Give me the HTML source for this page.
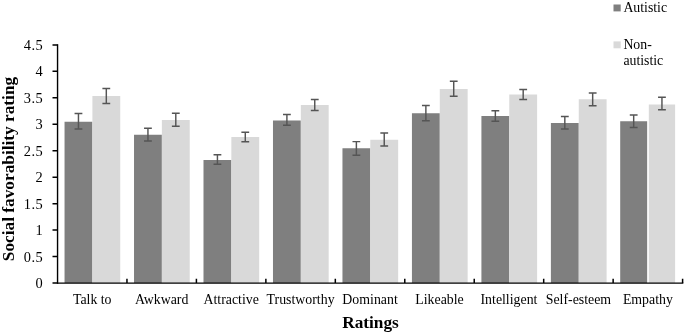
<!DOCTYPE html>
<html><head><meta charset="utf-8"><title>Ratings chart</title>
<style>
html,body{margin:0;padding:0;background:#fff;}
body{width:685px;height:333px;overflow:hidden;}
svg{display:block;will-change:transform;}
text{font-family:"Liberation Serif","Times New Roman",serif;fill:#000;}
.t{font-size:13.85px;}.l{font-size:13.8px;}
.y{font-size:14.4px;letter-spacing:0.45px;}
.b{font-size:17.3px;font-weight:bold;}
</style></head><body>
<svg width="685" height="333" viewBox="0 0 685 333">
<rect width="685" height="333" fill="#fff"/>
<rect x="64.54" y="121.75" width="27.85" height="161.25" fill="#7f7f7f"/>
<rect x="92.39" y="96.00" width="27.85" height="187.00" fill="#d9d9d9"/>
<path d="M78.46 113.50V129.00M74.56 113.50H82.36M74.56 129.00H82.36" stroke="#555" stroke-width="1.45" fill="none"/>
<path d="M106.31 88.50V103.50M102.41 88.50H110.21M102.41 103.50H110.21" stroke="#555" stroke-width="1.45" fill="none"/>
<rect x="134.02" y="134.75" width="27.85" height="148.25" fill="#7f7f7f"/>
<rect x="161.87" y="120.00" width="27.85" height="163.00" fill="#d9d9d9"/>
<path d="M147.94 128.25V141.00M144.04 128.25H151.84M144.04 141.00H151.84" stroke="#555" stroke-width="1.45" fill="none"/>
<path d="M175.79 113.25V126.25M171.89 113.25H179.69M171.89 126.25H179.69" stroke="#555" stroke-width="1.45" fill="none"/>
<rect x="203.50" y="160.00" width="27.85" height="123.00" fill="#7f7f7f"/>
<rect x="231.35" y="137.00" width="27.85" height="146.00" fill="#d9d9d9"/>
<path d="M217.43 154.75V164.25M213.53 154.75H221.33M213.53 164.25H221.33" stroke="#555" stroke-width="1.45" fill="none"/>
<path d="M245.28 132.25V141.75M241.38 132.25H249.18M241.38 141.75H249.18" stroke="#555" stroke-width="1.45" fill="none"/>
<rect x="272.98" y="120.50" width="27.85" height="162.50" fill="#7f7f7f"/>
<rect x="300.83" y="105.00" width="27.85" height="178.00" fill="#d9d9d9"/>
<path d="M286.90 114.50V125.25M283.00 114.50H290.80M283.00 125.25H290.80" stroke="#555" stroke-width="1.45" fill="none"/>
<path d="M314.75 99.50V110.50M310.86 99.50H318.65M310.86 110.50H318.65" stroke="#555" stroke-width="1.45" fill="none"/>
<rect x="342.46" y="148.25" width="27.85" height="134.75" fill="#7f7f7f"/>
<rect x="370.31" y="139.75" width="27.85" height="143.25" fill="#d9d9d9"/>
<path d="M356.38 141.60V155.25M352.49 141.60H360.28M352.49 155.25H360.28" stroke="#555" stroke-width="1.45" fill="none"/>
<path d="M384.24 133.00V146.00M380.34 133.00H388.13M380.34 146.00H388.13" stroke="#555" stroke-width="1.45" fill="none"/>
<rect x="411.94" y="113.25" width="27.85" height="169.75" fill="#7f7f7f"/>
<rect x="439.79" y="89.00" width="27.85" height="194.00" fill="#d9d9d9"/>
<path d="M425.87 105.50V120.75M421.97 105.50H429.76M421.97 120.75H429.76" stroke="#555" stroke-width="1.45" fill="none"/>
<path d="M453.72 81.25V96.25M449.82 81.25H457.62M449.82 96.25H457.62" stroke="#555" stroke-width="1.45" fill="none"/>
<rect x="481.42" y="116.00" width="27.85" height="167.00" fill="#7f7f7f"/>
<rect x="509.27" y="94.50" width="27.85" height="188.50" fill="#d9d9d9"/>
<path d="M495.34 110.75V121.25M491.44 110.75H499.24M491.44 121.25H499.24" stroke="#555" stroke-width="1.45" fill="none"/>
<path d="M523.19 89.50V99.50M519.29 89.50H527.09M519.29 99.50H527.09" stroke="#555" stroke-width="1.45" fill="none"/>
<rect x="550.90" y="123.00" width="27.85" height="160.00" fill="#7f7f7f"/>
<rect x="578.75" y="99.25" width="27.85" height="183.75" fill="#d9d9d9"/>
<path d="M564.82 116.50V129.00M560.92 116.50H568.72M560.92 129.00H568.72" stroke="#555" stroke-width="1.45" fill="none"/>
<path d="M592.67 93.00V105.75M588.77 93.00H596.57M588.77 105.75H596.57" stroke="#555" stroke-width="1.45" fill="none"/>
<rect x="620.20" y="121.25" width="26.95" height="161.75" fill="#7f7f7f"/>
<rect x="648.80" y="104.50" width="26.30" height="178.50" fill="#d9d9d9"/>
<path d="M633.68 115.00V127.50M629.78 115.00H637.58M629.78 127.50H637.58" stroke="#555" stroke-width="1.45" fill="none"/>
<path d="M661.95 97.25V109.75M658.05 97.25H665.85M658.05 109.75H665.85" stroke="#555" stroke-width="1.45" fill="none"/>
<path d="M57.55 44.20V283.85" stroke="#000" stroke-width="1.4" fill="none"/>
<path d="M57.50 283.15H683.35" stroke="#000" stroke-width="1.4" fill="none"/>
<path d="M52.50 283.00H57.50M52.50 256.54H57.50M52.50 230.09H57.50M52.50 203.63H57.50M52.50 177.18H57.50M52.50 150.72H57.50M52.50 124.27H57.50M52.50 97.81H57.50M52.50 71.36H57.50M52.50 44.90H57.50M126.96 278.70V283.00M196.41 278.70V283.00M265.87 278.70V283.00M335.32 278.70V283.00M404.78 278.70V283.00M474.23 278.70V283.00M543.69 278.70V283.00M613.14 278.70V283.00M682.60 278.70V283.00" stroke="#000" stroke-width="1.5" fill="none"/>
<text class="y" x="43.1" y="288.10" text-anchor="end">0</text>
<text class="y" x="43.1" y="261.64" text-anchor="end">0.5</text>
<text class="y" x="43.1" y="235.19" text-anchor="end">1</text>
<text class="y" x="43.1" y="208.73" text-anchor="end">1.5</text>
<text class="y" x="43.1" y="182.28" text-anchor="end">2</text>
<text class="y" x="43.1" y="155.82" text-anchor="end">2.5</text>
<text class="y" x="43.1" y="129.37" text-anchor="end">3</text>
<text class="y" x="43.1" y="102.91" text-anchor="end">3.5</text>
<text class="y" x="43.1" y="76.46" text-anchor="end">4</text>
<text class="y" x="43.1" y="50.00" text-anchor="end">4.5</text>
<text class="t" x="92.23" y="304" text-anchor="middle">Talk to</text>
<text class="t" x="161.68" y="304" text-anchor="middle">Awkward</text>
<text class="t" x="231.14" y="304" text-anchor="middle">Attractive</text>
<text class="t" x="300.59" y="304" text-anchor="middle">Trustworthy</text>
<text class="t" x="370.05" y="304" text-anchor="middle">Dominant</text>
<text class="t" x="439.51" y="304" text-anchor="middle">Likeable</text>
<text class="t" x="508.96" y="304" text-anchor="middle">Intelligent</text>
<text class="t" x="578.42" y="304" text-anchor="middle">Self-esteem</text>
<text class="t" x="647.87" y="304" text-anchor="middle">Empathy</text>
<text class="b" x="370.5" y="327.5" text-anchor="middle">Ratings</text>
<text class="b" transform="translate(14.4 169.0) rotate(-90)" text-anchor="middle">Social favorability rating</text>
<rect x="613.5" y="4.5" width="7.2" height="6.9" fill="#7f7f7f"/>
<rect x="613.5" y="41.4" width="7.2" height="6.9" fill="#d9d9d9"/>
<text class="l" x="623.4" y="11.6">Autistic</text>
<text class="l" x="623.4" y="48.6">Non-</text>
<text class="l" x="623.4" y="64.6">autistic</text>
</svg></body></html>
